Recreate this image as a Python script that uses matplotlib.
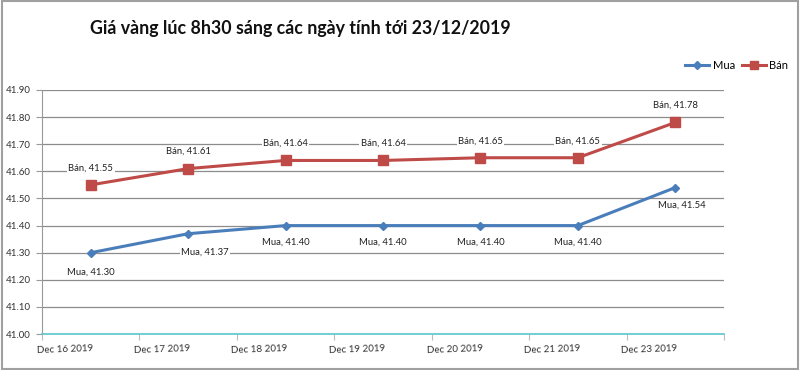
import matplotlib
matplotlib.use("Agg")
import matplotlib.pyplot as plt
from matplotlib.patches import Rectangle

plt.rcParams['font.family'] = ['Lato', 'DejaVu Sans']

dates = ["Dec 16 2019", "Dec 17 2019", "Dec 18 2019", "Dec 19 2019",
         "Dec 20 2019", "Dec 21 2019", "Dec 23 2019"]
mua = [41.30, 41.37, 41.40, 41.40, 41.40, 41.40, 41.54]
ban = [41.55, 41.61, 41.64, 41.64, 41.65, 41.65, 41.78]
yticks = [41.00, 41.10, 41.20, 41.30, 41.40, 41.50, 41.60, 41.70, 41.80, 41.90]

# label offsets (points) for the "Mua" data labels
mua_off = [(0, -14), (12, -13), (0, -12), (0, -12), (0, -12), (0, -12), (5, -13)]

blue = '#4a7ebb'
red = '#be4b48'

fig = plt.figure(figsize=(8, 3.7), dpi=100)
ax = fig.add_axes([0.0525, 0.097, 0.8525, 0.66])

x = list(range(len(dates)))
ax.plot(x, mua, color=blue, lw=2.2, marker='D', ms=4.5, label='Mua', zorder=3)
ax.plot(x, ban, color=red, lw=2.2, marker='s', ms=6.5, label='Bán', zorder=3)

for i, v in enumerate(ban):
    ax.annotate(f"Bán, {v:.2f}", (i, v), xytext=(0, 9), textcoords='offset points',
                ha='center', va='bottom', fontsize=6.8, color='#222222',
                bbox=dict(boxstyle='square,pad=0.15', fc='white', ec='none'), zorder=2)
for i, v in enumerate(mua):
    dx, dy = mua_off[i]
    ax.annotate(f"Mua, {v:.2f}", (i, v), xytext=(dx, dy), textcoords='offset points',
                ha='center', va='center', fontsize=6.8, color='#222222',
                bbox=dict(boxstyle='square,pad=0.15', fc='white', ec='none'), zorder=2)

ax.set_xlim(-0.5, len(dates) - 0.5)
ax.set_ylim(41.0, 41.9)
ax.set_yticks(yticks)
ax.set_yticklabels([f"{t:.2f}" for t in yticks], fontsize=7, color='#333333')
ax.yaxis.grid(True, color='#8c8c8c', lw=0.9)
ax.set_axisbelow(True)

ax.set_xticks([i - 0.5 for i in range(len(dates) + 1)], minor=False)
ax.set_xticklabels([])
ax.tick_params(axis='x', length=4, color='#bbbbbb')
ax.tick_params(axis='y', length=4, color='#999999', pad=4)
for i, d in enumerate(dates):
    ax.text(i + 0.02, -0.04, d, transform=ax.get_xaxis_transform(), fontsize=7,
            ha='right', va='top', rotation=2, rotation_mode='anchor', color='#333333')

for s in ['top', 'right']:
    ax.spines[s].set_visible(False)
ax.spines['left'].set_color('#999999')
ax.spines['bottom'].set_color('#5cc6cc')
ax.spines['bottom'].set_linewidth(1.2)

fig.text(0.1125, 0.924, "Giá vàng lúc 8h30 sáng các ngày tính tới 23/12/2019",
         fontsize=12.8, fontweight='bold', va='center', ha='left', color='#111111')

fig.legend(loc='center right', bbox_to_anchor=(0.998, 0.824), ncol=2, frameon=False,
           fontsize=8, handlelength=2.2, columnspacing=0.6, handletextpad=0.3,
           markerscale=0.8)

fig.add_artist(Rectangle((0.002, 0.003), 0.996, 0.994, transform=fig.transFigure,
                         fill=False, ec='#a0a0a0', lw=1.5))

fig.savefig("out.png", dpi=100)
